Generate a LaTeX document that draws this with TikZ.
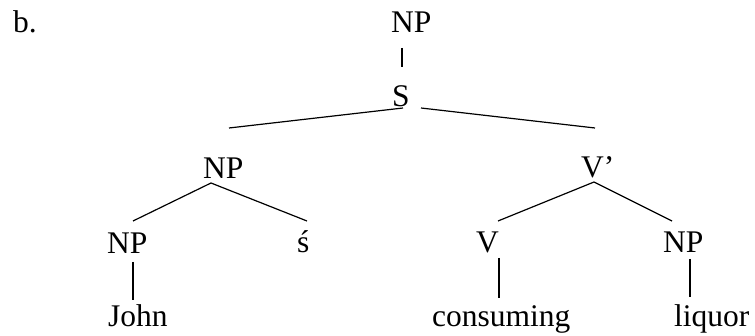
\documentclass[tikz,border=0pt]{standalone}
\usepackage{fontspec}
\setmainfont{Liberation Serif}
\begin{document}
\begin{tikzpicture}[x=1pt,y=-1pt,
  lbl/.style={anchor=base west,inner sep=0pt,font=\fontsize{31.5}{38}\selectfont},
  edge/.style={line width=1.2pt}]
\useasboundingbox (0,0) rectangle (755,336);
% labels
\node[lbl] (b) at (13,33) {b.};
\node[lbl] (np0) at (391,33) {NP};
\node[lbl] (s) at (392,107) {S};
\node[lbl] (np1) at (203,179) {NP};
\node[lbl] (vbar) at (581,178) {V’};
\node[lbl] (np2) at (107,254) {NP};
\node[lbl] (poss) at (297,253) {ś};
\node[lbl] (v) at (476,253) {V};
\node[lbl] (np3) at (663,253) {NP};
\node[lbl] (john) at (108,327) {John};
\node[lbl] (cons) at (432,327) {consuming};
\node[lbl] (liq) at (674,327) {liquor};
% connector end points
\coordinate (np0b) at (402,48);
\coordinate (st) at (402,67);
\coordinate (sl) at (403,108);
\coordinate (sr) at (421,108);
\coordinate (np1t) at (229,128);
\coordinate (vbart) at (595,128);
\coordinate (np1b) at (211,183);
\coordinate (np2t) at (133,221);
\coordinate (posst) at (307,221);
\coordinate (np2b) at (133,262);
\coordinate (johnt) at (133,300);
\coordinate (vbarb) at (594,182);
\coordinate (vt) at (498,221);
\coordinate (np3t) at (672,221);
\coordinate (vb) at (499,258);
\coordinate (const) at (499,298);
\coordinate (np3b) at (690,259);
\coordinate (liqt) at (690,297);
% connectors
\draw[edge] (np0b) -- (st);
\draw[edge] (sl) -- (np1t);
\draw[edge] (sr) -- (vbart);
\draw[edge] (np1b) -- (np2t);
\draw[edge] (np1b) -- (posst);
\draw[edge] (np2b) -- (johnt);
\draw[edge] (vbarb) -- (vt);
\draw[edge] (vbarb) -- (np3t);
\draw[edge] (vb) -- (const);
\draw[edge] (np3b) -- (liqt);
\end{tikzpicture}
\end{document}
